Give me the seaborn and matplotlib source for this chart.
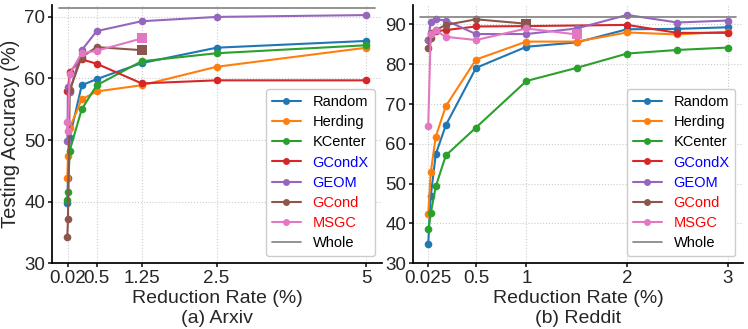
import numpy as np
import pandas as pd
import seaborn as sns
import matplotlib.pyplot as plt
from matplotlib.lines import Line2D

# ---- data ----
methods = ["Random", "Herding", "KCenter", "GCondX", "GEOM", "GCond", "MSGC"]
label_colors = ["black", "black", "black", "blue", "blue", "red", "red"]

# Arxiv
arxiv_rates = [0.01, 0.02, 0.05, 0.25, 0.5, 1.25, 2.5, 5]
arxiv_rates_short = [0.01, 0.02, 0.05, 0.25, 0.5, 1.25]
arxiv_random = [39.8, 43.9, 50.4, 58.9, 59.9, 62.5, 65.0, 66.1]
arxiv_herding = [43.9, 47.4, 52.0, 56.6, 57.9, 58.9, 61.9, 65.0]
arxiv_kcenter = [40.2, 41.5, 48.3, 55.0, 58.9, 62.8, 64.1, 65.4]
arxiv_gcondx = [57.9, 58.1, 61.1, 63.1, 62.4, 59.2, 59.7, 59.7]
arxiv_geom = [49.8, 58.6, 57.8, 64.6, 67.7, 69.3, 70.0, 70.3]
arxiv_gcond = [34.3, 37.1, 58.1, 63.5, 65.1, 64.6]
arxiv_msgc = [53.0, 51.5, 60.8, 64.1, 64.5, 66.5]
arxiv_whole = 71.4
arxiv_ticks = [0.02, 0.5, 1.25, 2.5, 5]
arxiv_ticklabels = ["0.02", "0.5", "1.25", "2.5", "5"]

# Reddit
reddit_rates = [0.025, 0.05, 0.1, 0.2, 0.5, 1, 1.5, 2, 2.5, 3]
reddit_rates_gcondx = [0.025, 0.05, 0.1, 0.2, 0.5, 1, 2, 2.5, 3]
reddit_rates_gcond = [0.025, 0.05, 0.1, 0.2, 0.5, 1]
reddit_rates_msgc = [0.025, 0.05, 0.1, 0.2, 0.5, 1, 1.5]
reddit_random = [34.8, 46.8, 57.4, 64.7, 79.1, 84.4, 85.5, 88.8, 88.9, 89.3]
reddit_herding = [42.4, 52.8, 61.8, 69.5, 81.2, 85.7, 85.7, 88.0, 87.5, 88.2]
reddit_kcenter = [38.5, 42.5, 49.3, 57.1, 64.1, 75.8, 79.1, 82.7, 83.6, 84.2]
reddit_gcondx = [86.0, 87.8, 88.3, 88.6, 89.5, 89.6, 89.9, 87.9, 87.9]
reddit_geom = [86.0, 90.7, 91.3, 91.0, 87.6, 87.6, 89.0, 92.4, 90.5, 91.0]
reddit_gcond = [84.2, 86.5, 88.6, 89.9, 91.3, 90.2]
reddit_msgc = [64.5, 87.5, 88.5, 86.9, 86.1, 89.0, 87.5]
reddit_whole = 91.8
reddit_ticks = [0.025, 0.5, 1, 2, 3]
reddit_ticklabels = ["0.025", "0.5", "1", "2", "3"]

arxiv = {
    "Random": (arxiv_rates, arxiv_random),
    "Herding": (arxiv_rates, arxiv_herding),
    "KCenter": (arxiv_rates, arxiv_kcenter),
    "GCondX": (arxiv_rates, arxiv_gcondx),
    "GEOM": (arxiv_rates, arxiv_geom),
    "GCond": (arxiv_rates_short, arxiv_gcond),
    "MSGC": (arxiv_rates_short, arxiv_msgc),
}
reddit = {
    "Random": (reddit_rates, reddit_random),
    "Herding": (reddit_rates, reddit_herding),
    "KCenter": (reddit_rates, reddit_kcenter),
    "GCondX": (reddit_rates_gcondx, reddit_gcondx),
    "GEOM": (reddit_rates, reddit_geom),
    "GCond": (reddit_rates_gcond, reddit_gcond),
    "MSGC": (reddit_rates_msgc, reddit_msgc),
}

# ---- style ----
sns.set_theme(style="ticks")
plt.rcParams["font.family"] = ["Liberation Sans", "DejaVu Sans"]
palette = sns.color_palette("tab10")


def draw(ax, series, whole, xlim, ylim, xticks, xticklabels, yticks, name):
    for i, m in enumerate(methods):
        x, y = series[m]
        df = pd.DataFrame({"rate": x, "acc": y})
        square_end = m in ("GCond", "MSGC")
        n = len(x)
        sns.lineplot(
            data=df, x="rate", y="acc", ax=ax, color=palette[i],
            marker="o", markersize=5.5, markeredgewidth=0, linewidth=1.5,
            sort=False, estimator=None,
            markevery=list(range(n - 1)) if square_end else None,
        )
        if square_end:
            ax.plot(x[-1], y[-1], marker="s", ms=6.5, mew=0, ls="none",
                    color=palette[i])
    ax.axhline(whole, xmin=0.02, xmax=0.98, color="gray", lw=1.2)

    ax.set_xlim(*xlim)
    ax.set_ylim(*ylim)
    ax.set_xticks(xticks)
    ax.set_xticklabels(xticklabels)
    ax.set_yticks(yticks)
    ax.tick_params(labelsize=13.5, length=3, pad=2)
    ax.grid(True, ls=":", color="#cccccc", lw=0.8)
    ax.set_xlabel("Reduction Rate (%)\n" + name, fontsize=14, labelpad=2)
    ax.set_ylabel("")
    for s in ["left", "bottom"]:
        ax.spines[s].set_color("black")

    handles = [Line2D([], [], color=palette[i], marker="o", ms=5, lw=1.5, mew=0)
               for i in range(len(methods))]
    handles.append(Line2D([], [], color="gray", lw=1.2))
    leg = ax.legend(handles, methods + ["Whole"], loc="lower right",
                    fontsize=10.5, labelspacing=0.42, handlelength=2.0,
                    borderpad=0.4, framealpha=1)
    for t, c in zip(leg.get_texts(), label_colors + ["black"]):
        t.set_color(c)


fig, axes = plt.subplots(1, 2, figsize=(7.48, 3.29), dpi=100)
draw(axes[0], arxiv, arxiv_whole, (-0.24, 5.26), (30, 72), arxiv_ticks,
     arxiv_ticklabels, [30, 40, 50, 60, 70], "(a) Arxiv")
draw(axes[1], reddit, reddit_whole, (-0.124, 3.149), (30, 95), reddit_ticks,
     reddit_ticklabels, [30, 40, 50, 60, 70, 80, 90], "(b) Reddit")
axes[0].set_ylabel("Testing Accuracy (%)", fontsize=14.5, labelpad=3)
sns.despine()

fig.subplots_adjust(left=0.07, right=0.993, top=0.986, bottom=0.2, wspace=0.095)
fig.savefig("out.png", dpi=100)
